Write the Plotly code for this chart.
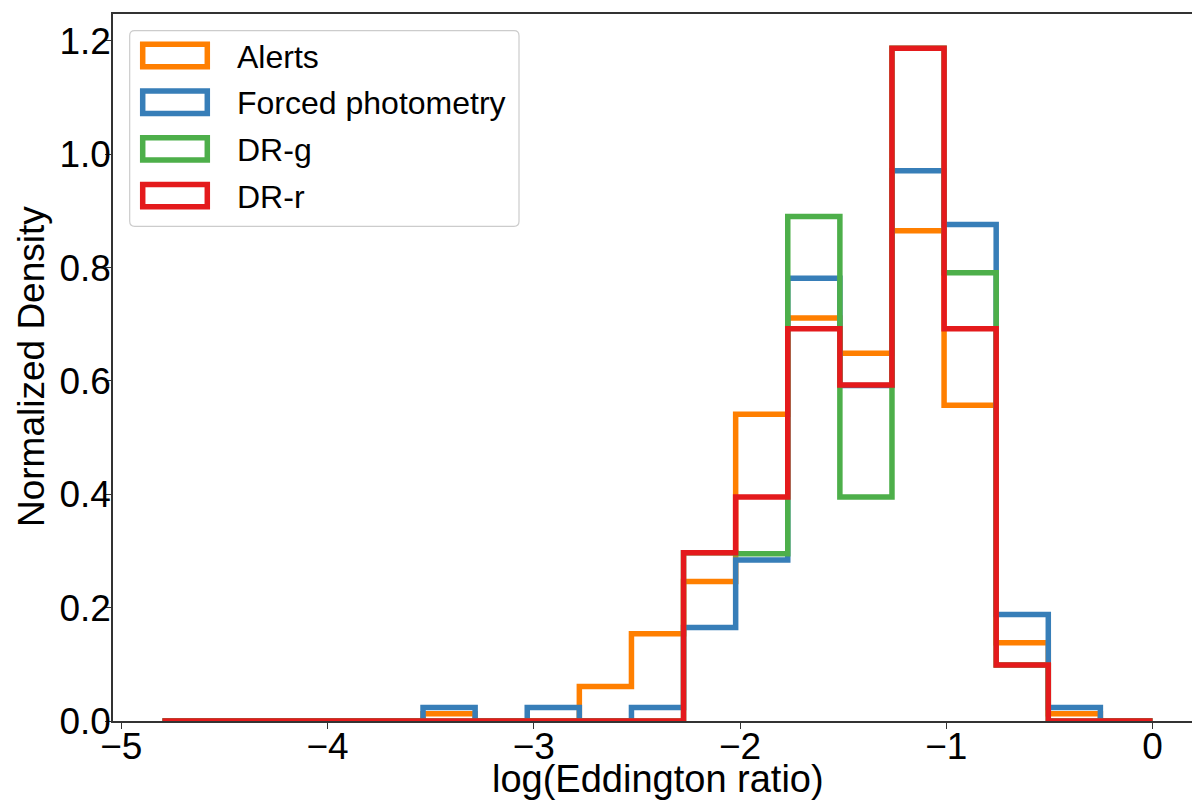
import numpy as np
import plotly.graph_objects as go

# ---- data ----
bin_start = -4.8
bin_end = 0.0
n_bins = 19
series_names = ["Alerts", "Forced photometry", "DR-g", "DR-r"]
alerts = [0, 0, 0, 0, 0, 0.013, 0, 0, 0.061, 0.154, 0.246, 0.541, 0.711, 0.649, 0.865, 0.557, 0.138, 0.013, 0]
forced = [0, 0, 0, 0, 0, 0.024, 0, 0.024, 0, 0.024, 0.165, 0.284, 0.781, 0.592, 0.971, 0.876, 0.188, 0.024, 0]
dr_g = [0, 0, 0, 0, 0, 0, 0, 0, 0, 0, 0.297, 0.295, 0.890, 0.395, 1.187, 0.791, 0.099, 0, 0]
dr_r = [0, 0, 0, 0, 0, 0, 0, 0, 0, 0, 0.297, 0.395, 0.692, 0.593, 1.187, 0.692, 0.099, 0, 0]
x_ticks = [-5, -4, -3, -2, -1, 0]
y_ticks = [0.0, 0.2, 0.4, 0.6, 0.8, 1.0, 1.2]

colors = ["#ff7f00", "#377eb8", "#4daf4a", "#e41a1c"]
series = [alerts, forced, dr_g, dr_r]

edges = np.linspace(bin_start, bin_end, n_bins + 1)

FONT = "Liberation Sans, Arial, Helvetica, sans-serif"

fig = go.Figure()
for name, vals, col in zip(series_names, series, colors):
    xs = [edges[0]] + list(edges)
    ys = [0] + list(vals) + [0]
    fig.add_trace(go.Scatter(
        x=xs, y=ys, mode="lines", name=name,
        line=dict(color=col, width=5.5, shape="hv"),
        showlegend=False, hoverinfo="skip",
    ))

# plot area geometry (pixels)
W, H = 1200, 801
L, R, T, B = 105, 6, 6, 88
pw = W - L - R
ph = H - T - B

def px2paper_x(px):
    return (px - L) / pw

def py2paper_y(py):
    return (H - B - py) / ph

shapes = []
# legend frame (rounded rect)
bx0, bx1, by0, by1 = 121.7, 511.0, 22.7, 218.3
r = 5.0
X0, X1 = px2paper_x(bx0), px2paper_x(bx1)
Y0, Y1 = py2paper_y(by1), py2paper_y(by0)
rx, ry = r / pw, r / ph
path = (f"M{X0+rx},{Y0} L{X1-rx},{Y0} Q{X1},{Y0} {X1},{Y0+ry} "
        f"L{X1},{Y1-ry} Q{X1},{Y1} {X1-rx},{Y1} L{X0+rx},{Y1} "
        f"Q{X0},{Y1} {X0},{Y1-ry} L{X0},{Y0+ry} Q{X0},{Y0} {X0+rx},{Y0} Z")
shapes.append(dict(type="path", xref="paper", yref="paper", path=path,
                   line=dict(color="rgba(204,204,204,1)", width=1.2),
                   fillcolor="rgba(255,255,255,0.8)", layer="above"))

annotations = []
row0 = 47.5
drow = 46.7
for i, (name, col) in enumerate(zip(series_names, colors)):
    cy = row0 + i * drow
    shapes.append(dict(type="rect", xref="paper", yref="paper",
                       x0=px2paper_x(134.7), x1=px2paper_x(199.3),
                       y0=py2paper_y(cy + 11.2), y1=py2paper_y(cy - 11.2),
                       line=dict(color=col, width=5.5), fillcolor="rgba(0,0,0,0)",
                       layer="above"))
    annotations.append(dict(xref="paper", yref="paper",
                            x=px2paper_x(226.7), y=py2paper_y(cy + 1),
                            xanchor="left", yanchor="middle", showarrow=False,
                            text=name, font=dict(family=FONT, size=32, color="black")))

# axis titles
annotations.append(dict(xref="paper", yref="paper", x=0.5, y=py2paper_y(771),
                        xanchor="center", yanchor="middle", showarrow=False,
                        text="log(Eddington ratio)",
                        font=dict(family=FONT, size=38, color="black")))
annotations.append(dict(xref="paper", yref="paper", x=px2paper_x(23), y=py2paper_y(359),
                        xanchor="center", yanchor="middle", showarrow=False,
                        textangle=-90, text="Normalized Density",
                        font=dict(family=FONT, size=37, color="black")))

axis_common = dict(showline=True, linecolor="#333333", linewidth=1.5, mirror=True,
                   ticks="outside", ticklen=6, tickwidth=1.3, tickcolor="#333333",
                   showgrid=False, zeroline=False, automargin=False,
                   tickfont=dict(family=FONT, size=37, color="black"))

fig.update_layout(
    template="none",
    width=W, height=H,
    margin=dict(l=L, r=R, t=T, b=B, autoexpand=False),
    paper_bgcolor="white", plot_bgcolor="white",
    showlegend=False,
    shapes=shapes, annotations=annotations,
    xaxis=dict(range=[-5.04, 0.24], tickvals=x_ticks, tickformat="d",
               ticklabelstandoff=-14, **axis_common),
    yaxis=dict(range=[0, 1.2474], tickvals=y_ticks, tickformat=".1f",
               ticklabelstandoff=-13, **axis_common),
)

fig.write_html("out.html")
